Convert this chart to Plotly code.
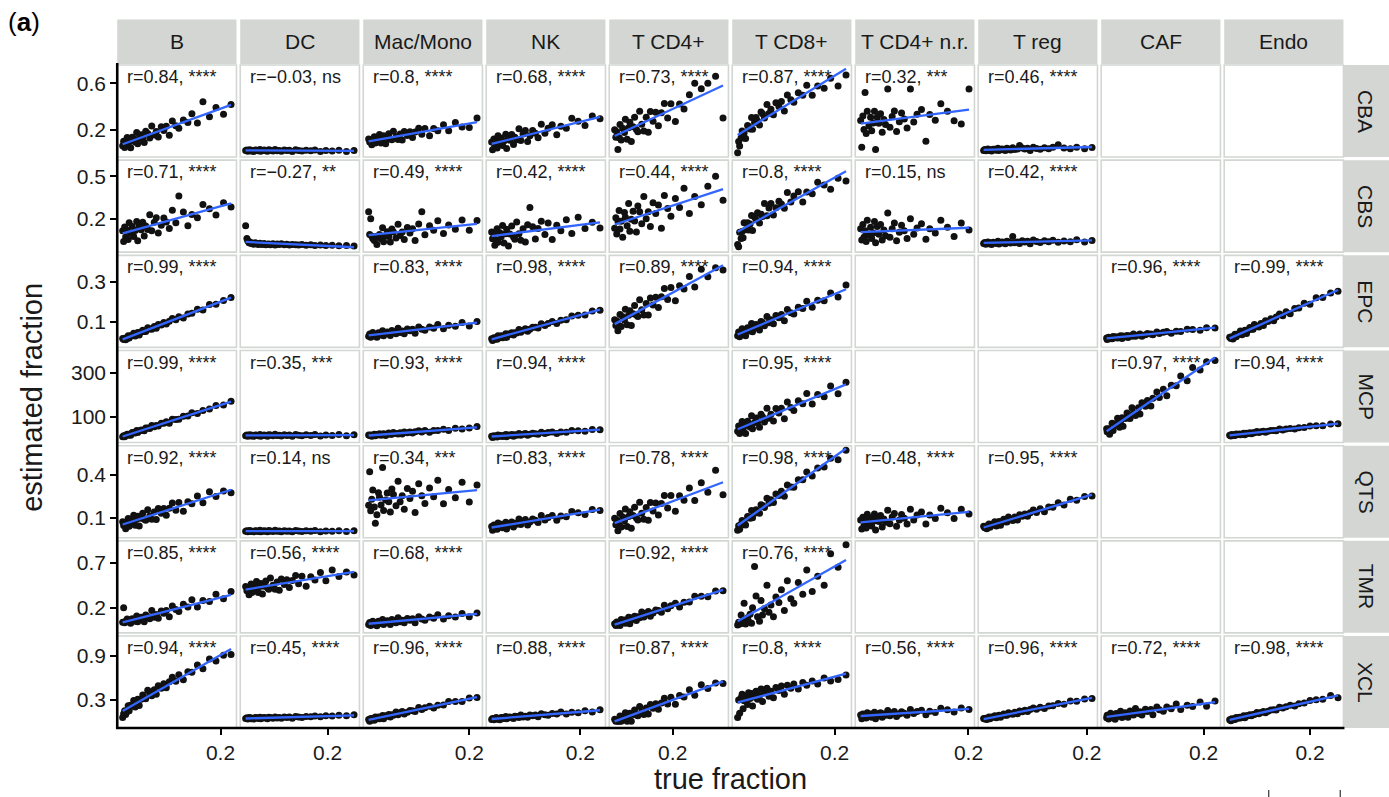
import numpy as np
import plotly.graph_objects as go

# ---------------------------------------------------------------------------
# Facet labels
# ---------------------------------------------------------------------------
CELL_TYPES = ["B", "DC", "Mac/Mono", "NK", "T CD4+", "T CD8+",
              "T CD4+ n.r.", "T reg", "CAF", "Endo"]
METHODS = ["CBA", "CBS", "EPC", "MCP", "QTS", "TMR", "XCL"]

# ---------------------------------------------------------------------------
# True fractions per cell type (shared by every method in a column)
# ---------------------------------------------------------------------------
X_B = [0.005, 0.007, 0.009, 0.011, 0.014, 0.016, 0.018, 0.021, 0.024, 0.027, 0.030, 0.033, 0.035, 0.038, 0.042, 0.045, 0.048, 0.051, 0.055, 0.059,
       0.063, 0.068, 0.072, 0.076, 0.082, 0.087, 0.092, 0.098, 0.104, 0.111, 0.117, 0.126, 0.135, 0.143, 0.154, 0.165, 0.178, 0.191, 0.206, 0.221]
X_DC = [0.005, 0.008, 0.010, 0.013, 0.015, 0.018, 0.020, 0.024, 0.028, 0.031, 0.035, 0.039, 0.041, 0.045, 0.049, 0.053, 0.057, 0.060, 0.064, 0.070,
        0.075, 0.080, 0.085, 0.090, 0.097, 0.103, 0.109, 0.116, 0.124, 0.131, 0.139, 0.149, 0.160, 0.170, 0.183, 0.196, 0.211, 0.227, 0.245, 0.263]
X_MAC = [0.005, 0.007, 0.009, 0.011, 0.013, 0.016, 0.018, 0.021, 0.024, 0.026, 0.029, 0.032, 0.034, 0.038, 0.041, 0.044, 0.047, 0.050, 0.053, 0.058,
         0.062, 0.066, 0.070, 0.074, 0.080, 0.085, 0.090, 0.095, 0.102, 0.108, 0.114, 0.123, 0.131, 0.139, 0.150, 0.160, 0.173, 0.186, 0.200, 0.215]
X_NK = [0.005, 0.007, 0.010, 0.012, 0.015, 0.017, 0.019, 0.023, 0.026, 0.029, 0.032, 0.036, 0.038, 0.042, 0.045, 0.049, 0.053, 0.056, 0.060, 0.065,
        0.069, 0.074, 0.079, 0.084, 0.089, 0.095, 0.101, 0.107, 0.114, 0.122, 0.129, 0.138, 0.148, 0.157, 0.169, 0.181, 0.195, 0.210, 0.226, 0.243]
X_CD4 = [0.005, 0.009, 0.012, 0.016, 0.020, 0.023, 0.027, 0.032, 0.038, 0.041, 0.047, 0.052, 0.056, 0.061, 0.067, 0.072, 0.078, 0.083, 0.089, 0.096,
         0.103, 0.111, 0.118, 0.125, 0.134, 0.143, 0.152, 0.162, 0.172, 0.183, 0.194, 0.209, 0.223, 0.238, 0.256, 0.274, 0.296, 0.318, 0.344, 0.369]
X_CD8 = [0.005, 0.007, 0.009, 0.012, 0.014, 0.016, 0.018, 0.021, 0.025, 0.027, 0.030, 0.033, 0.035, 0.039, 0.042, 0.045, 0.049, 0.052, 0.055, 0.059,
         0.064, 0.068, 0.072, 0.077, 0.082, 0.088, 0.093, 0.099, 0.105, 0.112, 0.118, 0.127, 0.136, 0.144, 0.155, 0.166, 0.179, 0.192, 0.207, 0.223]
X_CD4NR = [0.005, 0.007, 0.009, 0.011, 0.013, 0.015, 0.017, 0.020, 0.023, 0.025, 0.028, 0.030, 0.032, 0.035, 0.038, 0.041, 0.044, 0.047, 0.050, 0.054,
           0.058, 0.062, 0.066, 0.070, 0.075, 0.079, 0.084, 0.089, 0.095, 0.101, 0.107, 0.115, 0.123, 0.130, 0.140, 0.150, 0.162, 0.174, 0.187, 0.201]
X_TREG = [0.005, 0.007, 0.009, 0.011, 0.013, 0.015, 0.017, 0.020, 0.023, 0.026, 0.029, 0.032, 0.034, 0.037, 0.040, 0.043, 0.046, 0.049, 0.052, 0.056,
          0.060, 0.064, 0.069, 0.073, 0.078, 0.083, 0.088, 0.093, 0.099, 0.105, 0.112, 0.120, 0.128, 0.136, 0.146, 0.157, 0.169, 0.181, 0.196, 0.210]
X_CAF = [0.005, 0.006, 0.009, 0.011, 0.013, 0.016, 0.018, 0.022, 0.024, 0.027, 0.031, 0.033, 0.036, 0.038, 0.042, 0.046, 0.048, 0.052, 0.056, 0.059,
         0.063, 0.069, 0.072, 0.076, 0.083, 0.087, 0.094, 0.098, 0.106, 0.111, 0.119, 0.126, 0.135, 0.145, 0.154, 0.167, 0.178, 0.193, 0.206, 0.223]
X_ENDO = [0.005, 0.008, 0.010, 0.013, 0.016, 0.018, 0.021, 0.025, 0.029, 0.031, 0.035, 0.039, 0.042, 0.046, 0.050, 0.054, 0.058, 0.062, 0.065, 0.071,
          0.076, 0.081, 0.087, 0.092, 0.098, 0.105, 0.112, 0.118, 0.126, 0.134, 0.142, 0.152, 0.163, 0.173, 0.186, 0.200, 0.215, 0.231, 0.250, 0.268]

# ---------------------------------------------------------------------------
# Estimated fractions, one list per method / cell type
# ---------------------------------------------------------------------------
CBA_B = [.061, .101, .046, .094, .133, .068, .100, .045, .136, .122, .094, .176, .080, .125, .157, .126, .090, .186, .168, .129,
         .231, .155, .185, .137, .226, .194, .230, .152, .275, .234, .212, .284, .261, .337, .258, .440, .312, .391, .332, .418]
CBA_DC = [.020, .026, .015, .022, .028, .017, .021, .013, .025, .023, .018, .029, .014, .021, .025, .019, .014, .027, .023, .017,
          .030, .019, .022, .015, .026, .020, .024, .012, .027, .020, .016, .024, .018, .026, .013, .021, .016, .023, .012, .021]
CBA_MAC = [.121, .095, .114, .070, .092, .140, .085, .126, .110, .158, .086, .128, .147, .079, .131, .165, .121, .113, .186, .140,
           .115, .164, .111, .185, .150, .182, .133, .180, .213, .160, .211, .148, .210, .191, .242, .190, .263, .224, .220, .300]
CBA_NK = [.095, .027, .120, .057, .099, .042, .149, .083, .126, .064, .102, .161, .038, .136, .110, .158, .072, .136, .114, .209,
          .108, .163, .193, .098, .148, .194, .170, .131, .248, .170, .212, .242, .156, .230, .212, .299, .273, .237, .319, .295]
CBA_CD4 = [.199, .135, .182, .030, .130, .245, .112, .212, .175, .290, .117, .217, .264, .099, .225, .307, .202, .183, .359, .248,
           .188, .307, .178, .357, .273, .351, .233, .346, .426, .301, .424, .270, .422, .378, .501, .600, .553, .600, .660, .300]
CBA_CD8 = [.002, .099, .060, .131, .188, .128, .172, .125, .237, .227, .207, .306, .204, .262, .304, .275, .241, .352, .337, .300,
           .418, .340, .376, .328, .431, .400, .442, .360, .499, .458, .436, .519, .496, .582, .497, .576, .557, .643, .577, .670]
CBA_CD4NR = [.279, .050, .317, .202, .520, .168, .358, .234, .308, .192, .257, .358, .030, .307, .255, .338, .177, .287, .244, .550,
             .222, .314, .362, .184, .268, .343, .292, .214, .550, .267, .333, .374, .100, .330, .282, .423, .359, .276, .250, .550]
CBA_TREG = [.022, .030, .018, .027, .034, .021, .028, .016, .032, .031, .024, .040, .020, .029, .034, .027, .021, .040, .034, .026,
            .045, .030, .034, .065, .043, .034, .040, .022, .048, .038, .032, .044, .036, .048, .070, .042, .036, .050, .035, .046]

CBS_B = [.115, .040, .141, .071, .118, .053, .171, .098, .145, .075, .117, .181, .045, .153, .122, .175, .079, .149, .124, .228,
         .116, .175, .207, .100, .155, .205, .177, .132, .260, .172, .360, .248, .151, .231, .208, .301, .270, .227, .314, .283]
CBS_DC = [.150, .060, .045, .030, .035, .025, .028, .020, .030, .024, .018, .027, .022, .019, .025, .016, .020, .022, .017, .024,
          .015, .021, .018, .023, .016, .020, .014, .019, .017, .015, .018, .013, .016, .012, .015, .011, .013, .010, .012, .008]
CBS_MAC = [.250, .088, .200, .076, .060, .046, .075, .018, .070, .089, .058, .137, .038, .080, .109, .075, .035, .128, .106, .064,
           .161, .081, .106, .054, .138, .099, .130, .047, .163, .250, .087, .150, .119, .186, .096, .156, .126, .191, .118, .188]
CBS_NK = [.106, .059, .090, .013, .050, .129, .034, .102, .073, .152, .028, .095, .126, .008, .093, .149, .072, .056, .177, .095,
          .049, .129, .035, .157, .280, .144, .057, .131, .182, .089, .170, .054, .154, .116, .193, .096, .210, .132, .175, .134]
CBS_CD4 = [.133, .207, .093, .185, .259, .127, .183, .069, .244, .210, .150, .307, .111, .196, .253, .185, .107, .290, .249, .164,
           .357, .200, .249, .146, .314, .238, .298, .133, .365, .273, .217, .343, .280, .415, .238, .357, .299, .430, .500, .330]
CBS_CD8 = [.018, .003, .104, .060, .110, .066, .172, .122, .171, .120, .163, .223, .117, .212, .193, .242, .170, .232, .216, .308,
           .222, .276, .308, .226, .277, .323, .305, .274, .385, .318, .360, .391, .318, .389, .376, .458, .438, .409, .486, .466]
CBS_CD4NR = [.130, .050, .160, .070, .115, .040, .190, .085, .140, .060, .100, .180, .030, .145, .090, .160, .050, .120, .080, .240,
             .070, .130, .170, .045, .105, .155, .115, .060, .200, .090, .135, .165, .055, .130, .100, .190, .140, .075, .170, .120]
CBS_TREG = [.025, .032, .020, .030, .036, .023, .030, .018, .034, .033, .026, .042, .022, .031, .036, .029, .023, .041, .035, .028,
            .075, .031, .035, .025, .044, .035, .041, .024, .050, .039, .033, .045, .037, .049, .034, .043, .037, .051, .036, .047]

EPC_B = [.015, .010, .016, .008, .015, .028, .017, .029, .028, .041, .027, .039, .045, .033, .047, .057, .050, .050, .069, .063,
         .061, .075, .066, .086, .083, .095, .088, .102, .116, .109, .125, .118, .139, .142, .162, .159, .186, .188, .207, .222]
EPC_MAC = [.026, .037, .021, .034, .045, .027, .035, .021, .044, .041, .032, .054, .028, .040, .048, .040, .030, .055, .050, .039,
           .066, .045, .052, .039, .063, .054, .062, .041, .073, .062, .056, .073, .067, .086, .064, .082, .076, .096, .078, .100]
EPC_NK = [.013, .004, .019, .011, .018, .011, .029, .019, .029, .019, .027, .039, .020, .037, .035, .044, .032, .044, .043, .060,
          .046, .057, .064, .051, .061, .072, .071, .068, .089, .081, .090, .100, .090, .107, .110, .129, .132, .133, .154, .158]
EPC_CD4 = [.109, .080, .103, .054, .081, .136, .075, .124, .108, .163, .084, .132, .155, .080, .140, .181, .133, .126, .210, .160,
           .134, .192, .134, .220, .184, .223, .171, .226, .267, .212, .273, .205, .281, .265, .328, .275, .365, .327, .372, .361]
EPC_CD8 = [.029, .047, .024, .046, .064, .036, .051, .028, .069, .064, .053, .090, .049, .070, .085, .073, .058, .101, .095, .079,
           .126, .094, .109, .089, .131, .119, .136, .104, .161, .145, .138, .173, .166, .203, .172, .208, .205, .245, .224, .285]
EPC_CAF = [.017, .010, .021, .014, .019, .013, .025, .018, .024, .017, .021, .029, .015, .027, .023, .030, .020, .028, .026, .038,
           .026, .033, .037, .026, .034, .040, .037, .034, .048, .040, .046, .050, .041, .051, .050, .062, .060, .057, .069, .068]
EPC_ENDO = [.021, .015, .023, .012, .021, .036, .023, .037, .036, .052, .034, .049, .056, .040, .058, .070, .061, .062, .085, .076,
            .073, .091, .080, .105, .100, .114, .105, .123, .139, .130, .150, .140, .166, .169, .193, .188, .221, .222, .245, .254]

MCP_B = [8, 13, 8, 15, 20, 15, 19, 15, 27, 26, 25, 36, 27, 34, 39, 37, 35, 48, 48, 46,
         59, 54, 59, 57, 69, 69, 76, 70, 88, 87, 88, 101, 103, 117, 114, 128, 134, 150, 152, 170]
MCP_DC = [13, 16, 11, 14, 17, 12, 15, 10, 16, 15, 13, 18, 11, 14, 16, 14, 11, 17, 16, 13,
          19, 14, 15, 12, 17, 14, 16, 11, 18, 15, 13, 17, 14, 18, 12, 16, 14, 18, 13, 17]
MCP_MAC = [16, 14, 16, 11, 14, 19, 13, 18, 17, 22, 15, 20, 22, 14, 21, 25, 20, 19, 28, 23,
           21, 26, 21, 30, 26, 30, 25, 31, 35, 30, 36, 29, 37, 36, 42, 37, 47, 43, 48, 55]
MCP_NK = [11, 5, 13, 8, 12, 7, 16, 11, 14, 9, 13, 18, 8, 16, 14, 18, 11, 17, 15, 23,
          15, 20, 23, 15, 20, 24, 22, 19, 29, 23, 27, 30, 23, 30, 29, 37, 35, 33, 41, 40]
MCP_CD8 = [33, 57, 23, 53, 77, 37, 56, 23, 79, 70, 53, 104, 44, 73, 93, 73, 51, 110, 99, 75,
           138, 92, 110, 80, 136, 116, 138, 90, 166, 141, 128, 172, 158, 205, 157, 200, 190, 239, 203, 256]
MCP_CAF = [45, 31, 45, 20, 37, 69, 37, 66, 60, 92, 51, 80, 94, 56, 91, 116, 93, 91, 140, 116,
           105, 140, 112, 163, 147, 173, 148, 183, 211, 186, 224, 194, 242, 240, 284, 263, 323, 312, 349, 355]
MCP_ENDO = [15, 12, 18, 14, 17, 14, 21, 18, 21, 17, 20, 24, 17, 24, 23, 26, 22, 26, 26, 32,
            27, 31, 33, 29, 33, 36, 36, 35, 43, 39, 43, 46, 43, 49, 50, 57, 58, 58, 66, 67]

QTS_B = [.071, .045, .066, .022, .046, .094, .040, .082, .068, .117, .046, .089, .109, .042, .096, .130, .088, .082, .155, .111,
         .088, .139, .087, .163, .130, .164, .117, .166, .202, .152, .205, .145, .211, .196, .251, .203, .281, .247, .285, .274]
QTS_DC = [.004, .008, .002, .006, .010, .003, .005, .001, .008, .007, .003, .011, .002, .005, .009, .004, .001, .010, .007, .003,
          .012, .004, .006, .002, .009, .005, .007, .001, .010, .006, .003, .008, .004, .010, .002, .006, .004, .009, .003, .008]
QTS_MAC = [.186, .420, .148, .229, .293, .174, .060, .120, .274, .243, .188, .450, .150, .223, .272, .210, .139, .300, .262, .183,
           .353, .211, .252, .158, .304, .234, .284, .135, .337, .252, .198, .306, .245, .360, .197, .297, .238, .347, .209, .327]
QTS_NK = [.038, .011, .049, .024, .041, .018, .062, .035, .053, .029, .044, .068, .020, .059, .049, .069, .035, .061, .053, .091,
          .052, .074, .087, .049, .070, .090, .081, .066, .114, .083, .101, .114, .081, .112, .106, .143, .134, .122, .156, .149]
QTS_CD4 = [.096, .051, .084, .008, .047, .128, .035, .105, .079, .160, .038, .108, .141, .025, .114, .172, .098, .084, .208, .130,
           .088, .171, .081, .206, .147, .202, .119, .198, .255, .167, .254, .145, .252, .221, .307, .219, .344, .277, .430, .260]
QTS_CD8 = [.012, .044, .019, .053, .080, .050, .073, .049, .108, .104, .096, .149, .099, .131, .155, .144, .130, .189, .185, .171,
           .236, .200, .224, .206, .264, .254, .284, .249, .327, .314, .312, .365, .365, .419, .391, .446, .454, .515, .503, .570]
QTS_CD4NR = [.083, .021, .103, .044, .082, .028, .124, .062, .099, .041, .074, .125, .013, .100, .073, .115, .035, .090, .068, .152,
             .058, .105, .129, .040, .083, .121, .095, .056, .159, .084, .118, .139, .056, .118, .094, .166, .134, .094, .158, .126]
QTS_TREG = [.039, .029, .040, .022, .033, .056, .033, .053, .049, .071, .042, .063, .073, .046, .071, .088, .071, .070, .104, .088,
            .080, .105, .084, .120, .109, .126, .109, .134, .153, .135, .162, .141, .174, .172, .203, .188, .229, .222, .247, .251]

TMR_B = [.040, .200, .035, .050, .075, .045, .060, .030, .080, .070, .050, .110, .045, .070, .095, .075, .045, .120, .100, .080,
         .170, .095, .125, .085, .165, .140, .170, .100, .220, .180, .160, .240, .210, .290, .210, .280, .270, .350, .300, .380]
TMR_DC = [.436, .390, .422, .346, .384, .464, .370, .439, .412, .492, .369, .438, .470, .353, .440, .497, .422, .407, .530, .450,
          .406, .488, .396, .520, .459, .512, .427, .504, .558, .468, .552, .440, .544, .510, .592, .500, .620, .548, .598, .564]
TMR_MAC = [.014, .036, .004, .030, .051, .015, .032, .002, .050, .041, .025, .069, .015, .039, .056, .038, .016, .069, .058, .035,
           .090, .046, .061, .034, .081, .061, .080, .035, .101, .076, .062, .099, .084, .123, .076, .112, .098, .137, .100, .143]
TMR_CD4 = [.023, .005, .043, .008, .036, .005, .070, .034, .064, .029, .056, .095, .023, .086, .074, .107, .059, .101, .091, .153,
           .098, .136, .159, .106, .143, .177, .169, .151, .229, .190, .222, .250, .208, .263, .264, .329, .328, .322, .388, .391]
TMR_CD8 = [.010, .040, .020, .120, .030, .060, .250, .020, .090, .050, .130, .030, .200, .660, .330, .100, .050, .280, .120, .190,
           .450, .150, .230, .100, .320, .260, .400, .170, .500, .300, .250, .480, .350, .620, .380, .550, .450, .800, .650, .900]

XCL_B = [.060, .111, .152, .102, .145, .222, .154, .227, .219, .294, .205, .277, .311, .226, .311, .370, .320, .318, .433, .381,
         .358, .441, .378, .495, .461, .522, .467, .548, .611, .555, .644, .575, .685, .680, .777, .728, .861, .833, .912, .920]
XCL_DC = [.048, .058, .042, .053, .062, .046, .052, .040, .060, .057, .049, .066, .044, .055, .061, .054, .045, .064, .061, .051,
          .070, .056, .060, .050, .068, .061, .067, .052, .074, .068, .062, .075, .071, .082, .072, .084, .082, .092, .085, .100]
XCL_MAC = [.035, .010, .049, .026, .046, .025, .070, .046, .067, .044, .063, .090, .043, .086, .078, .101, .070, .098, .093, .135,
           .100, .126, .142, .108, .134, .158, .154, .144, .197, .172, .196, .216, .191, .229, .233, .279, .281, .280, .328, .334]
XCL_NK = [.035, .049, .030, .047, .060, .038, .049, .031, .062, .057, .048, .076, .043, .059, .069, .059, .047, .080, .074, .061,
          .095, .070, .080, .065, .095, .084, .097, .071, .112, .099, .091, .116, .109, .135, .109, .134, .128, .155, .137, .166]
XCL_CD4 = [.036, .010, .029, .010, .010, .082, .010, .066, .044, .128, .010, .085, .120, .009, .101, .164, .094, .084, .213, .140,
           .103, .192, .108, .239, .187, .249, .173, .259, .324, .244, .339, .242, .360, .340, .440, .366, .508, .458, .533, .524]
XCL_CD8 = [.060, .300, .120, .330, .380, .180, .290, .350, .240, .400, .320, .390, .220, .340, .420, .310, .360, .450, .280, .400,
           .460, .350, .420, .330, .470, .430, .490, .380, .500, .460, .520, .450, .540, .500, .560, .520, .600, .560, .580, .640]
XCL_CD4NR = [.094, .046, .110, .065, .095, .053, .128, .081, .110, .065, .092, .132, .045, .114, .093, .127, .065, .109, .092, .158,
             .086, .123, .143, .074, .109, .139, .121, .091, .172, .115, .143, .161, .098, .148, .131, .189, .167, .138, .191, .169]
XCL_TREG = [.049, .040, .051, .034, .046, .069, .046, .068, .064, .087, .059, .081, .092, .065, .091, .109, .093, .093, .128, .113,
            .106, .132, .113, .150, .140, .159, .143, .170, .190, .174, .203, .184, .220, .221, .254, .243, .287, .283, .313, .321]
XCL_CAF = [.058, .092, .042, .084, .118, .060, .086, .037, .116, .102, .077, .148, .062, .101, .128, .099, .066, .149, .132, .096,
           .184, .116, .140, .096, .173, .142, .171, .100, .206, .168, .146, .206, .182, .246, .172, .230, .210, .274, .216, .286]
XCL_ENDO = [.032, .018, .044, .031, .045, .033, .062, .051, .065, .053, .066, .085, .058, .086, .084, .100, .084, .103, .102, .131,
            .113, .131, .144, .127, .147, .164, .166, .163, .201, .190, .209, .227, .219, .248, .258, .293, .303, .312, .360, .330]

# Correlation labels (None = no data for that method / cell type)
R_CBA = ["r=0.84, ****", "r=\u22120.03, ns", "r=0.8, ****", "r=0.68, ****", "r=0.73, ****",
         "r=0.87, ****", "r=0.32, ***", "r=0.46, ****", None, None]
R_CBS = ["r=0.71, ****", "r=\u22120.27, **", "r=0.49, ****", "r=0.42, ****", "r=0.44, ****",
         "r=0.8, ****", "r=0.15, ns", "r=0.42, ****", None, None]
R_EPC = ["r=0.99, ****", None, "r=0.83, ****", "r=0.98, ****", "r=0.89, ****",
         "r=0.94, ****", None, None, "r=0.96, ****", "r=0.99, ****"]
R_MCP = ["r=0.99, ****", "r=0.35, ***", "r=0.93, ****", "r=0.94, ****", None,
         "r=0.95, ****", None, None, "r=0.97, ****", "r=0.94, ****"]
R_QTS = ["r=0.92, ****", "r=0.14, ns", "r=0.34, ***", "r=0.83, ****", "r=0.78, ****",
         "r=0.98, ****", "r=0.48, ****", "r=0.95, ****", None, None]
R_TMR = ["r=0.85, ****", "r=0.56, ****", "r=0.68, ****", None, "r=0.92, ****",
         "r=0.76, ****", None, None, None, None]
R_XCL = ["r=0.94, ****", "r=0.45, ****", "r=0.96, ****", "r=0.88, ****", "r=0.87, ****",
         "r=0.8, ****", "r=0.56, ****", "r=0.96, ****", "r=0.72, ****", "r=0.98, ****"]

# Y axis ticks and limits per method row
Y_TICKS = [[0.2, 0.6], [0.2, 0.5], [0.1, 0.3], [100, 300], [0.1, 0.4], [0.2, 0.7], [0.3, 0.9]]
Y_TICKTEXT = [["0.2", "0.6"], ["0.2", "0.5"], ["0.1", "0.3"], ["100", "300"],
              ["0.1", "0.4"], ["0.2", "0.7"], ["0.3", "0.9"]]
Y_LIMITS = [[-0.035, 0.757], [-0.036, 0.614], [-0.03, 0.435], [-18, 400],
            [-0.04, 0.602], [-0.078, 0.944], [-0.082, 1.173]]
X_TICKS = [0.2]

# ---------------------------------------------------------------------------
# Assemble lookups
# ---------------------------------------------------------------------------
TRUE_X = [X_B, X_DC, X_MAC, X_NK, X_CD4, X_CD8, X_CD4NR, X_TREG, X_CAF, X_ENDO]
ESTIMATES = [
    [CBA_B, CBA_DC, CBA_MAC, CBA_NK, CBA_CD4, CBA_CD8, CBA_CD4NR, CBA_TREG, None, None],
    [CBS_B, CBS_DC, CBS_MAC, CBS_NK, CBS_CD4, CBS_CD8, CBS_CD4NR, CBS_TREG, None, None],
    [EPC_B, None, EPC_MAC, EPC_NK, EPC_CD4, EPC_CD8, None, None, EPC_CAF, EPC_ENDO],
    [MCP_B, MCP_DC, MCP_MAC, MCP_NK, None, MCP_CD8, None, None, MCP_CAF, MCP_ENDO],
    [QTS_B, QTS_DC, QTS_MAC, QTS_NK, QTS_CD4, QTS_CD8, QTS_CD4NR, QTS_TREG, None, None],
    [TMR_B, TMR_DC, TMR_MAC, None, TMR_CD4, TMR_CD8, None, None, None, None],
    [XCL_B, XCL_DC, XCL_MAC, XCL_NK, XCL_CD4, XCL_CD8, XCL_CD4NR, XCL_TREG, XCL_CAF, XCL_ENDO],
]
R_LABELS = [R_CBA, R_CBS, R_EPC, R_MCP, R_QTS, R_TMR, R_XCL]

# ---------------------------------------------------------------------------
# Page geometry (pixels)
# ---------------------------------------------------------------------------
W, H = 1389, 797
COL_LEFT0, COL_PITCH, PANEL_W = 118.0, 123.8, 120.0
ROW_TOP0, ROW_PITCH, PANEL_H = 65.0, 95.17, 92.0
STRIP_TOP, STRIP_BOTTOM = 19.5, 64.0
RSTRIP_LEFT = 1352.5

FONT = "Liberation Sans, Arial, Helvetica, sans-serif"
INK = "#1a1a1a"
BORDER = "#d2d7d3"
STRIP_FILL = "#d3d6d2"
FIT_COLOR = "#3366FF"


def fx(px):
    return px / W


def fy(py):
    return 1 - py / H


n_rows, n_cols = len(METHODS), len(CELL_TYPES)
fig = go.Figure()
layout = {}
shapes = []
annotations = []

for r in range(n_rows):
    top = ROW_TOP0 + r * ROW_PITCH
    bottom = top + PANEL_H
    for c in range(n_cols):
        left = COL_LEFT0 + c * COL_PITCH
        right = left + PANEL_W
        k = r * n_cols + c + 1
        xa = "xaxis" if k == 1 else f"xaxis{k}"
        ya = "yaxis" if k == 1 else f"yaxis{k}"
        xr = "x" if k == 1 else f"x{k}"
        yr = "y" if k == 1 else f"y{k}"

        xs = np.array(TRUE_X[c], dtype=float)
        lo, hi = xs.min(), xs.max()
        pad = 0.05 * (hi - lo)

        is_bottom = r == n_rows - 1
        is_left = c == 0
        layout[xa] = dict(
            domain=[fx(left), fx(right)], anchor=yr, range=[lo - pad, hi + pad],
            showgrid=False, zeroline=False, showline=False,
            tickvals=X_TICKS if is_bottom else [], ticktext=["0.2"] if is_bottom else [],
            ticks="outside" if is_bottom else "", ticklen=6, tickwidth=2, tickcolor="black",
            showticklabels=is_bottom, tickfont=dict(family=FONT, size=21, color=INK),
        )
        layout[ya] = dict(
            domain=[fy(bottom), fy(top)], anchor=xr, range=Y_LIMITS[r],
            showgrid=False, zeroline=False, showline=False,
            tickvals=Y_TICKS[r] if is_left else [], ticktext=Y_TICKTEXT[r] if is_left else [],
            ticks="outside" if is_left else "", ticklen=6, tickwidth=2, tickcolor="black",
            showticklabels=is_left, tickfont=dict(family=FONT, size=21, color=INK),
        )

        # panel frame
        shapes.append(dict(type="rect", xref="paper", yref="paper",
                           x0=fx(left), x1=fx(right), y0=fy(bottom), y1=fy(top),
                           line=dict(color=BORDER, width=1.6), fillcolor="white", layer="below"))

        ys = ESTIMATES[r][c]
        if ys is None:
            continue
        ys = np.array(ys, dtype=float)
        fig.add_trace(go.Scatter(
            x=xs, y=ys, mode="markers", xaxis=xr, yaxis=yr, showlegend=False,
            marker=dict(size=7, color="#111111", line=dict(width=0)),
            hoverinfo="skip"))
        slope, intercept = np.polyfit(xs, ys, 1)
        lx = np.array([lo, hi])
        fig.add_trace(go.Scatter(
            x=lx, y=intercept + slope * lx, mode="lines", xaxis=xr, yaxis=yr,
            showlegend=False, line=dict(color=FIT_COLOR, width=2.3), hoverinfo="skip"))
        annotations.append(dict(
            xref="paper", yref="paper", x=fx(left + 8), y=fy(top + 12),
            xanchor="left", yanchor="middle", showarrow=False,
            text=R_LABELS[r][c], font=dict(family=FONT, size=18, color=INK)))

# column strips
for c, name in enumerate(CELL_TYPES):
    left = COL_LEFT0 + c * COL_PITCH
    shapes.append(dict(type="rect", xref="paper", yref="paper",
                       x0=fx(left), x1=fx(left + PANEL_W), y0=fy(STRIP_BOTTOM), y1=fy(STRIP_TOP),
                       line=dict(width=0), fillcolor=STRIP_FILL, layer="below"))
    annotations.append(dict(xref="paper", yref="paper", x=fx(left + PANEL_W / 2),
                            y=fy((STRIP_TOP + STRIP_BOTTOM) / 2), xanchor="center", yanchor="middle",
                            showarrow=False, text=name, font=dict(family=FONT, size=21, color=INK)))

# row strips
for r, name in enumerate(METHODS):
    top = ROW_TOP0 + r * ROW_PITCH
    shapes.append(dict(type="rect", xref="paper", yref="paper",
                       x0=fx(RSTRIP_LEFT), x1=fx(W + 20), y0=fy(top + PANEL_H), y1=fy(top),
                       line=dict(width=0), fillcolor=STRIP_FILL, layer="below"))
    annotations.append(dict(xref="paper", yref="paper", x=fx(1375), y=fy(top + PANEL_H / 2),
                            xanchor="center", yanchor="middle", textangle=90, showarrow=False,
                            text=name, font=dict(family=FONT, size=21, color=INK)))

# axis lines spanning the grid
grid_bottom = ROW_TOP0 + (n_rows - 1) * ROW_PITCH + PANEL_H
grid_right = COL_LEFT0 + (n_cols - 1) * COL_PITCH + PANEL_W
shapes.append(dict(type="line", xref="paper", yref="paper", x0=fx(COL_LEFT0), x1=fx(COL_LEFT0),
                   y0=fy(ROW_TOP0 - 2), y1=fy(grid_bottom + 1), line=dict(color="black", width=2.6)))
shapes.append(dict(type="line", xref="paper", yref="paper", x0=fx(COL_LEFT0 - 1.2), x1=fx(grid_right + 1),
                   y0=fy(grid_bottom), y1=fy(grid_bottom), line=dict(color="black", width=2.6)))
# tick stubs of the panel below
for px in (1277, 1349):
    shapes.append(dict(type="line", xref="paper", yref="paper", x0=fx(px), x1=fx(px),
                       y0=fy(797), y1=fy(790), line=dict(color="#333333", width=1.2)))

# titles
annotations.append(dict(xref="paper", yref="paper", x=fx(COL_LEFT0 + (grid_right - COL_LEFT0) / 2),
                        y=fy(779), xanchor="center", yanchor="middle", showarrow=False,
                        text="true fraction", font=dict(family=FONT, size=29, color=INK)))
annotations.append(dict(xref="paper", yref="paper", x=fx(32), y=fy(397),
                        xanchor="center", yanchor="middle", textangle=-90, showarrow=False,
                        text="estimated fraction", font=dict(family=FONT, size=29, color=INK)))
annotations.append(dict(xref="paper", yref="paper", x=fx(6), y=fy(22),
                        xanchor="left", yanchor="middle", showarrow=False,
                        text="(<b>a</b>)", font=dict(family=FONT, size=26, color="black")))

fig.update_layout(
    width=W, height=H, margin=dict(l=0, r=0, t=0, b=0),
    paper_bgcolor="white", plot_bgcolor="rgba(0,0,0,0)",
    shapes=shapes, annotations=annotations, showlegend=False, **layout)

fig.write_html("out.html")
